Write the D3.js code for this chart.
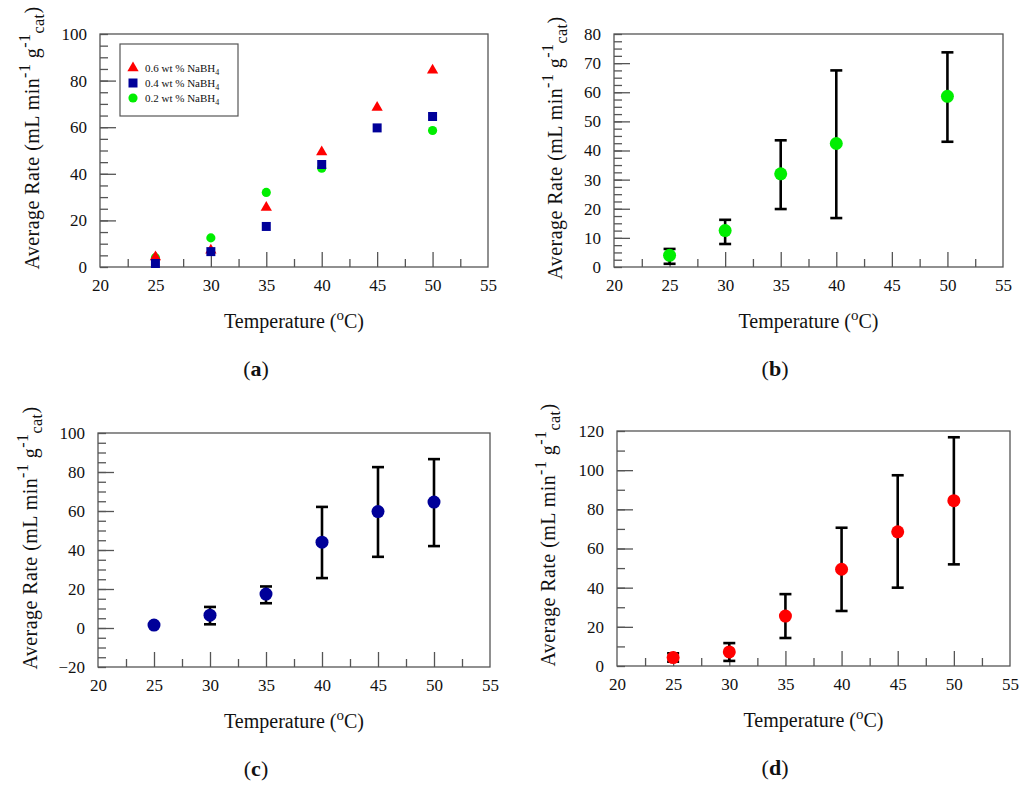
<!DOCTYPE html>
<html>
<head>
<meta charset="utf-8">
<script src="https://cdn.jsdelivr.net/npm/d3@7"></script>
<style>
  body { margin: 0; background: #fff; }
  svg { display: block; }
  text { font-family: 'Liberation Serif', 'Times New Roman', serif; fill: #111; }
</style>
</head>
<body>
<div id="wrapper"></div>
<script>
// Data
const temps = [25, 30, 35, 40, 45, 50]
const temps02 = [25, 30, 35, 40, 50]          // no 45 C point for 0.2 wt %

const rate06 = [4.3, 7.2, 25.5, 49.4, 68.5, 84.4]
const low06 = [2.2, 2.6, 14.3, 28.1, 40.0, 51.9]
const high06 = [6.5, 11.7, 36.7, 70.6, 97.4, 116.8]

const rate04 = [1.5, 6.6, 17.4, 44.0, 59.7, 64.6]
const low04 = [1.5, 1.9, 12.7, 25.6, 36.5, 42.0]
const high04 = [1.5, 10.8, 21.3, 62.1, 82.5, 86.6]

const rate02 = [4.0, 12.5, 32.0, 42.4, 58.6]
const low02 = [1.1, 7.9, 19.9, 16.8, 43.0]
const high02 = [6.2, 16.2, 43.5, 67.5, 73.7]

const xTicks = [20, 25, 30, 35, 40, 45, 50, 55]
const xMinor = [22.5, 27.5, 32.5, 37.5, 42.5, 47.5, 52.5]
const legendLabels = ['0.6 wt % NaBH', '0.4 wt % NaBH', '0.2 wt % NaBH']

const red = '#ff0000'
const blue = '#000099'
const green = '#00ee00'

const wrapper = d3.select('#wrapper')
  .append('svg')
  .attr('width', 1024)
  .attr('height', 788)

function zip(xs, ys, lo, hi) {
  return xs.map((x, i) => ({ x, y: ys[i], lo: lo ? lo[i] : null, hi: hi ? hi[i] : null }))
}

function drawPanel(p) {
  const x = d3.scaleLinear().domain([20, 55]).range([p.left, p.right])
  const y = d3.scaleLinear().domain(p.yDomain).range([p.bottom, p.top])
  const g = wrapper.append('g')

  // minor ticks
  const yMinor = d3.range(p.yDomain[0], p.yDomain[1] + 0.001, p.yMinorStep)
  g.append('g')
    .attr('transform', `translate(${p.left},0)`)
    .call(d3.axisLeft(y).tickValues(yMinor).tickSize(-8).tickFormat(''))
  g.append('g')
    .attr('transform', `translate(0,${p.bottom})`)
    .call(d3.axisBottom(x).tickValues(xMinor).tickSize(-8).tickFormat(''))

  // major ticks + labels
  const yMajor = d3.range(p.yDomain[0], p.yDomain[1] + 0.001, p.yMajorStep)
  const yAxis = g.append('g')
    .attr('transform', `translate(${p.left},0)`)
    .call(d3.axisLeft(y).tickValues(yMajor).tickSize(-16).tickPadding(p.yPad))
  const xAxis = g.append('g')
    .attr('transform', `translate(0,${p.bottom})`)
    .call(d3.axisBottom(x).tickValues(xTicks).tickSize(-15).tickPadding(12))

  g.selectAll('.domain').remove()
  g.selectAll('.tick line').attr('stroke', '#555').attr('stroke-width', 1.3)
  g.selectAll('.tick text')
    .attr('font-family', "'Liberation Serif', serif")
    .attr('font-size', 17)
    .attr('fill', '#111')
  // hide ticks sitting on the frame edges
  xAxis.selectAll('.tick line').filter(d => d === 20 || d === 55).remove()
  yAxis.selectAll('.tick line').filter(d => d === p.yDomain[0] || d === p.yDomain[1]).remove()

  // frame
  g.append('rect')
    .attr('x', p.left).attr('y', p.top)
    .attr('width', p.right - p.left).attr('height', p.bottom - p.top)
    .attr('fill', 'none').attr('stroke', '#555').attr('stroke-width', 1.3)

  // axis titles
  const xt = g.append('text')
    .attr('x', (p.left + p.right) / 2)
    .attr('y', p.bottom + 61)
    .attr('text-anchor', 'middle')
    .attr('font-size', 20)
  xt.append('tspan').text('Temperature (')
  xt.append('tspan').attr('font-size', 15).attr('dy', -8).text('o')
  xt.append('tspan').attr('dy', 8).text('C)')

  const yt = g.append('text')
    .attr('transform', `translate(${p.left - p.yTitleOff},${p.yTitleY}) rotate(-90)`)
    .attr('text-anchor', 'middle')
    .attr('font-size', 20)
    .attr('letter-spacing', 0.45)
  yt.append('tspan').text('Average Rate (mL min')
  yt.append('tspan').attr('font-size', 16).attr('dy', -9).text('-1')
  yt.append('tspan').attr('dy', 9).text(' g')
  yt.append('tspan').attr('font-size', 16).attr('dy', -9).text('-1')
  yt.append('tspan').attr('font-size', 16).attr('dy', 14).text('cat')
  yt.append('tspan').attr('dy', -5).text(')')

  // panel letter
  const pl = g.append('text')
    .attr('x', p.labelX)
    .attr('y', p.bottom + 109)
    .attr('text-anchor', 'middle')
    .attr('font-size', 22)
  pl.append('tspan').text('(')
  pl.append('tspan').attr('font-weight', 'bold').text(p.letter)
  pl.append('tspan').text(')')

  return { g, x, y }
}

function drawErrorSeries(panel, data, color) {
  const { g, x, y } = panel
  const bars = g.append('g')
    .selectAll('g')
    .data(data.filter(d => d.lo !== d.hi))
    .join('g')
    .attr('stroke', '#000')
    .attr('stroke-width', 2.6)
  bars.append('line')
    .attr('x1', d => x(d.x)).attr('x2', d => x(d.x))
    .attr('y1', d => y(d.lo)).attr('y2', d => y(d.hi))
  bars.append('line')
    .attr('x1', d => x(d.x) - 6).attr('x2', d => x(d.x) + 6)
    .attr('y1', d => y(d.hi)).attr('y2', d => y(d.hi))
  bars.append('line')
    .attr('x1', d => x(d.x) - 6).attr('x2', d => x(d.x) + 6)
    .attr('y1', d => y(d.lo)).attr('y2', d => y(d.lo))

  g.append('g')
    .selectAll('circle')
    .data(data)
    .join('circle')
    .attr('cx', d => x(d.x))
    .attr('cy', d => y(d.y))
    .attr('r', 6.5)
    .attr('fill', color)
}

// (a) all three loadings
const pa = drawPanel({
  letter: 'a', left: 100, right: 488, top: 34, bottom: 267,
  yDomain: [0, 100], yMajorStep: 20, yMinorStep: 5, yPad: 13,
  yTitleOff: 61, yTitleY: 138, labelX: 256
})
const symbols = [
  { type: d3.symbolTriangle, size: 55, color: red, values: zip(temps, rate06) },
  { type: d3.symbolSquare, size: 81, color: blue, values: zip(temps, rate04) },
  { type: d3.symbolCircle, size: 66, color: green, values: zip(temps02, rate02) },
]
// green drawn under the others where they overlap
;[symbols[2], symbols[0], symbols[1]].forEach(s => {
  pa.g.append('g')
    .selectAll('path')
    .data(s.values)
    .join('path')
    .attr('transform', d => `translate(${pa.x(d.x)},${pa.y(d.y)})`)
    .attr('d', d3.symbol(s.type, s.size))
    .attr('fill', s.color)
})

// legend
const legend = pa.g.append('g')
legend.append('rect')
  .attr('x', 120).attr('y', 44).attr('width', 118).attr('height', 72)
  .attr('fill', '#fff').attr('stroke', '#555').attr('stroke-width', 1.2)
symbols.forEach((s, i) => {
  const row = legend.append('g').attr('transform', `translate(133,${68 + i * 15})`)
  row.append('path').attr('d', d3.symbol(s.type, s.size)).attr('fill', s.color)
  const t = row.append('text').attr('x', 12).attr('y', 4).attr('font-size', 11)
  t.append('tspan').text(legendLabels[i])
  t.append('tspan').attr('font-size', 8).attr('dy', 3).text('4')
})

// (b) 0.2 wt %
const pb = drawPanel({
  letter: 'b', left: 614, right: 1003, top: 34, bottom: 267,
  yDomain: [0, 80], yMajorStep: 10, yMinorStep: 2.5, yPad: 13,
  yTitleOff: 52, yTitleY: 148, labelX: 775
})
drawErrorSeries(pb, zip(temps02, rate02, low02, high02), green)

// (c) 0.4 wt %
const pc = drawPanel({
  letter: 'c', left: 98, right: 490, top: 433, bottom: 667,
  yDomain: [-20, 100], yMajorStep: 20, yMinorStep: 5, yPad: 13,
  yTitleOff: 61, yTitleY: 538, labelX: 256
})
drawErrorSeries(pc, zip(temps, rate04, low04, high04), blue)

// (d) 0.6 wt %
const pd = drawPanel({
  letter: 'd', left: 617, right: 1010, top: 431, bottom: 666,
  yDomain: [0, 120], yMajorStep: 20, yMinorStep: 10, yPad: 13,
  yTitleOff: 62, yTitleY: 535, labelX: 775
})
drawErrorSeries(pd, zip(temps, rate06, low06, high06), red)
</script>
</body>
</html>
